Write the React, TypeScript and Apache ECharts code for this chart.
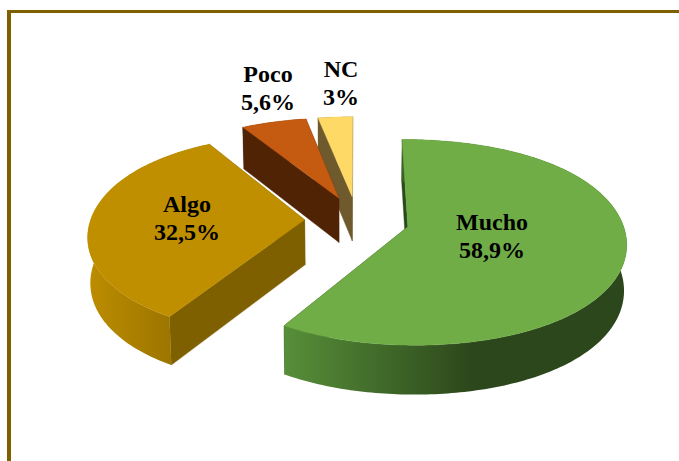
import React, { useEffect, useRef } from "react";
import * as echarts from "echarts";

// Data
const CATEGORIES = ["Mucho", "Algo", "Poco", "NC"];
const VALUES = [58.9, 32.5, 5.6, 3];

// Styles
const TOP_COLORS = ["#70AD47", "#BF8F00", "#C55A11", "#FFD966"];
const CUT_COLORS = ["#2B4A1A", "#7F6000", "#4F2304", "#6E5A2C"];
const RIM_STOPS = [
  [[0, "#578F39"], [0.55, "#2C471B"], [1, "#2C471B"]],
  [[0, "#BD8D00"], [1, "#8C6A00"]],
  [[0, "#4F2304"], [1, "#4F2304"]],
  [[0, "#6E5A2C"], [1, "#6E5A2C"]],
];
const BORDER = "#7F6000";

// Layout of the 3D projection
const CX = 357, CY = 220, RX = 214, RY = 98.5, PERSP_X = 0.126, PERSP_Y = 0.15, EXPLODE = 0.245;
const START_DEG = 0, FULLNESS = 0.015;
const DEPTH = 45, DEPTH_Y_SCALE = 1.035, BOTTOM_X_SCALE = 0.99;
const DRAW_RANK = [4, 3, 2, 1];
const LABEL_CENTERS = [[492, 236], [187, 218], [268, 88], [341, 83]];

type P = [number, number];

function project(u: number, v: number): P {
  return [CX + (RX * u) / (1 - PERSP_X * v), CY + (RY * v) / (1 - PERSP_Y * v)];
}
function toBottom(p: P): P {
  return [CX + (p[0] - CX) * BOTTOM_X_SCALE, CY + (p[1] - CY) * DEPTH_Y_SCALE + DEPTH];
}

function renderSlice(params: any, api: any) {
  const i: number = params.dataIndex;
  const total = VALUES.reduce((a, b) => a + b, 0);
  const before = VALUES.slice(0, i).reduce((a, b) => a + b, 0);
  const a0 = START_DEG + (before / total) * 360;
  const a1 = a0 + (api.value(0) / total) * 360;
  const mid = ((a0 + a1) / 2) * Math.PI / 180;
  const ou = EXPLODE * Math.sin(mid);
  const ov = -EXPLODE * Math.cos(mid);
  const at = (deg: number): P => {
    const t = deg * Math.PI / 180;
    const r = 1 + FULLNESS * Math.sin(2 * t) ** 2;
    return project(ou + r * Math.sin(t), ov - r * Math.cos(t));
  };
  const apex = project(ou, ov);
  const arc: P[] = [];
  const steps = Math.max(4, Math.ceil(a1 - a0));
  for (let k = 0; k <= steps; k++) arc.push(at(a0 + ((a1 - a0) * k) / steps));
  const bottomArc = arc.map(toBottom);
  const z = DRAW_RANK[i] * 10;
  const gradient = new echarts.graphic.LinearGradient(
    0, 0, 1, 0,
    RIM_STOPS[i].map(([offset, color]) => ({ offset: offset as number, color: color as string }))
  );
  const wall = (p: P) => [p, apex, toBottom(apex), toBottom(p)];
  const poly = (points: P[], fill: any, z2: number) => ({
    type: "polygon",
    z2,
    shape: { points },
    style: { fill, stroke: typeof fill === "string" ? fill : null, lineWidth: 0.4 },
    silent: true,
  });
  return {
    type: "group",
    children: [
      poly(wall(arc[0]) as P[], CUT_COLORS[i], z),
      poly(wall(arc[arc.length - 1]) as P[], CUT_COLORS[i], z),
      poly(arc.concat(bottomArc.slice().reverse()), gradient, z + 1),
      poly([apex, ...arc], TOP_COLORS[i], z + 2),
      {
        type: "text",
        z2: 100,
        silent: true,
        style: {
          text: `${CATEGORIES[i]}\n${String(VALUES[i]).replace(".", ",")}%`,
          x: LABEL_CENTERS[i][0],
          y: LABEL_CENTERS[i][1],
          align: "center",
          verticalAlign: "middle",
          font: 'bold 24px "Liberation Serif"',
          lineHeight: 28,
          fill: "#000000",
        },
      },
    ],
  };
}

export default function App() {
  const ref = useRef<HTMLDivElement>(null);
  useEffect(() => {
    document.body.style.margin = "0";
    const chart = echarts.init(ref.current!, null, { renderer: "svg" });
    chart.setOption({
      animation: false,
      backgroundColor: "#FFFFFF",
      graphic: [
        { type: "line", z: 1, shape: { x1: 9, y1: 10, x2: 9, y2: 461 }, style: { stroke: BORDER, lineWidth: 4 } },
        { type: "line", z: 1, shape: { x1: 7, y1: 11.5, x2: 679, y2: 11.5 }, style: { stroke: BORDER, lineWidth: 3 } },
      ],
      series: [
        {
          type: "custom",
          coordinateSystem: "none",
          renderItem: renderSlice,
          data: CATEGORIES.map((name, i) => ({ name, value: VALUES[i] })),
        },
      ],
    });
    return () => chart.dispose();
  }, []);
  return <div ref={ref} style={{ width: 679, height: 461 }} />;
}
